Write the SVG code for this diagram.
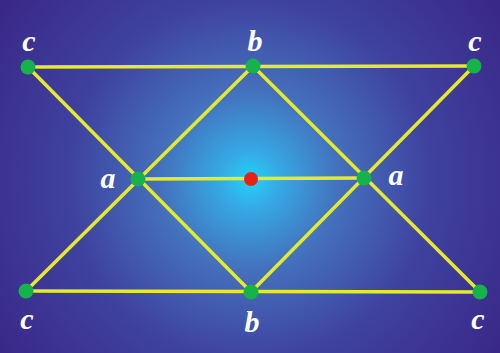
<svg xmlns="http://www.w3.org/2000/svg" width="500" height="353" viewBox="0 0 500 353">
<defs>
<radialGradient id="bg" cx="250" cy="180" r="300" gradientUnits="userSpaceOnUse">
<stop offset="0" stop-color="#20d2f8"/>
<stop offset="0.1" stop-color="#36a8e4"/>
<stop offset="0.3" stop-color="#4470bc"/>
<stop offset="0.6" stop-color="#3f42a0"/>
<stop offset="1" stop-color="#3a2888"/>
</radialGradient>
</defs>
<style>
.e{stroke:#e6ea2c;stroke-width:3.5;stroke-linecap:round;fill:none}
.g{fill:#16b24c}
.r{fill:#e8201c}
.t{font-family:"Liberation Serif",serif;font-style:italic;font-weight:bold;font-size:30px;fill:#ffffff;text-anchor:middle}
</style>
<rect width="500" height="353" fill="url(#bg)"/>
<g id="connectors">
<line class="e" x1="28" y1="67" x2="474" y2="66"/>
<line class="e" x1="26" y1="291" x2="480" y2="292"/>
<line class="e" x1="138" y1="179" x2="364" y2="178"/>
<line class="e" x1="28" y1="67" x2="251" y2="292"/>
<line class="e" x1="253" y1="66" x2="26" y2="291"/>
<line class="e" x1="253" y1="66" x2="480" y2="292"/>
<line class="e" x1="474" y1="66" x2="251" y2="292"/>
</g>
<g id="c-tl"><circle class="g" cx="28" cy="67" r="7.5"/><text class="t" x="29" y="51">c</text></g>
<g id="b-top"><circle class="g" cx="253" cy="66" r="7.5"/><text class="t" x="255" y="51">b</text></g>
<g id="c-tr"><circle class="g" cx="474" cy="66" r="7.5"/><text class="t" x="475" y="51">c</text></g>
<g id="a-left"><circle class="g" cx="138" cy="179" r="7.5"/><text class="t" x="108" y="188">a</text></g>
<g id="center"><circle class="r" cx="251" cy="179" r="7"/></g>
<g id="a-right"><circle class="g" cx="364" cy="178" r="7.5"/><text class="t" x="396" y="185">a</text></g>
<g id="c-bl"><circle class="g" cx="26" cy="291" r="7.5"/><text class="t" x="27" y="329">c</text></g>
<g id="b-bot"><circle class="g" cx="251" cy="292" r="7.5"/><text class="t" x="252" y="332">b</text></g>
<g id="c-br"><circle class="g" cx="480" cy="292" r="7.5"/><text class="t" x="478" y="329">c</text></g>
</svg>
